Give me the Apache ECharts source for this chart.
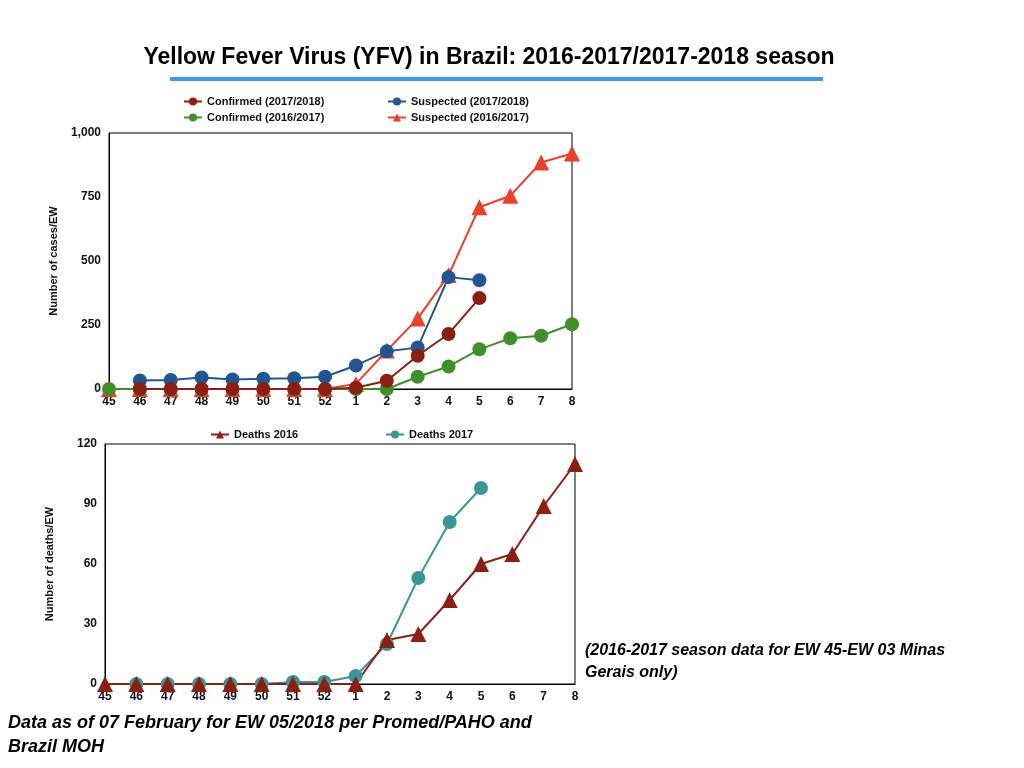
<!DOCTYPE html><html><head><meta charset="utf-8"><script src="https://cdn.jsdelivr.net/npm/echarts@6/dist/echarts.min.js"></script>
<style>body{margin:0}#c{width:1024px;height:768px}</style></head><body><div id="c"></div><script>
const weeks=['45','46','47','48','49','50','51','52','1','2','3','4','5','6','7','8'];
const confirmed1718=[null,0,0,0,0,0,0,0,5,32,130,215,355];
const suspected1718=[null,33,35,45,37,40,42,48,92,147,162,437,425];
const confirmed1617=[0,0,0,0,0,0,0,0,0,0,48,88,155,198,208,253];
const suspected1617=[0,0,0,0,0,0,0,0,20,150,275,445,710,755,885,920];
const deaths2016=[0,0,0,0,0,0,0,0,0,22,25,42,60,65,89,110];
const deaths2017=[null,0,0,0,0,0,1,1,4,20,53,81,98];
const ch=echarts.init(document.getElementById('c'));
const lab={color:'#111',fontWeight:'bold',fontSize:12,fontFamily:'Liberation Sans'};
const lt={fontSize:11,fontWeight:'bold',color:'#111',fontFamily:'Liberation Sans'};
function xa(i){return {type:'category',gridIndex:i,data:weeks,boundaryGap:false,axisLine:{lineStyle:{color:'#000'}},axisTick:{show:false},axisLabel:Object.assign({margin:7,interval:0},lab)};}
function ya(i,max,int,name){return {type:'value',gridIndex:i,min:0,max:max,interval:int,name:name,nameLocation:'middle',nameGap:50,nameTextStyle:lt,axisLine:{show:true,lineStyle:{color:'#000'}},axisTick:{show:false},splitLine:{show:false},axisLabel:Object.assign({formatter:v=>v.toLocaleString('en-US')},lab)};}
function s(name,data,color,sym,xi,size){return {name:name,type:'line',data:data,xAxisIndex:xi,yAxisIndex:xi,symbol:sym,symbolSize:size||14,lineStyle:{color:color,width:2},itemStyle:{color:color},z:3};}
function lg(names,left,top){return {data:names,left:left,top:top,itemWidth:18,itemHeight:10,itemGap:10,textStyle:lt};}
ch.setOption({animation:false,
title:{text:'Yellow Fever Virus (YFV) in Brazil: 2016-2017/2017-2018 season',left:484,textAlign:'center',top:41,textStyle:{fontSize:23,fontWeight:'bold',color:'#000',fontFamily:'Liberation Sans'}},
graphic:[{type:'rect',shape:{x:170,y:77,width:653,height:4},style:{fill:'#3a9bf0'}},
{type:'rect',shape:{x:109,y:133,width:463,height:256},style:{fill:'none',stroke:'#000',lineWidth:1}},
{type:'rect',shape:{x:105,y:444,width:470,height:240},style:{fill:'none',stroke:'#000',lineWidth:1}},
{type:'text',left:585,top:640,style:{text:'(2016-2017 season data for EW 45-EW 03 Minas\nGerais only)',font:'italic bold 16px Liberation Sans',lineHeight:22,fill:'#000'}},
{type:'text',left:8,top:711,style:{text:'Data as of 07 February for EW 05/2018 per Promed/PAHO and\nBrazil MOH',font:'italic bold 18px Liberation Sans',lineHeight:24,fill:'#000'}}],
legend:[lg(['Confirmed (2017/2018)'],178,91),lg(['Suspected (2017/2018)'],382,91),lg(['Confirmed (2016/2017)'],178,107),lg(['Suspected (2016/2017)'],382,107),
lg(['Deaths 2016'],205,424),lg(['Deaths 2017'],380,424)],
grid:[{left:109,right:452,top:133,bottom:379},{left:105,right:449,top:444,bottom:84}],
xAxis:[xa(0),xa(1)],
yAxis:[ya(0,1000,250,'Number of cases/EW'),ya(1,120,30,'Number of deaths/EW')],
series:[s('Suspected (2016/2017)',suspected1617,'#e8402a','triangle',0,16),
s('Confirmed (2016/2017)',confirmed1617,'#3f8f2a','circle',0),
s('Suspected (2017/2018)',suspected1718,'#235592','circle',0),
s('Confirmed (2017/2018)',confirmed1718,'#8a1f14','circle',0),
s('Deaths 2017',deaths2017,'#3a9696','circle',1),
s('Deaths 2016',deaths2016,'#8a1f14','triangle',1,16)]});
</script></body></html>
